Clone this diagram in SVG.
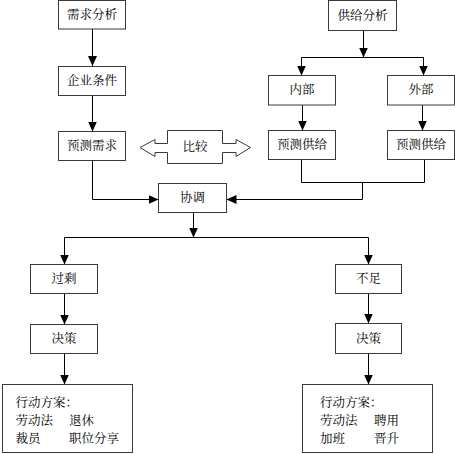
<svg xmlns="http://www.w3.org/2000/svg" width="455" height="454" viewBox="0 0 455 454">
<style>
.box{fill:#fff;stroke:#3a3a3a;stroke-width:1}
.ln{fill:none;stroke:#000;stroke-width:1}
.t{font-family:"Liberation Serif","Noto Serif CJK SC","Noto Sans CJK SC",serif;font-size:12.5px;fill:#000;text-anchor:middle;dominant-baseline:central}
.tl{font-family:"Liberation Serif","Noto Serif CJK SC","Noto Sans CJK SC",serif;font-size:12.5px;fill:#000;dominant-baseline:central}
</style>
<defs>
<marker id="ah" viewBox="0 0 10 9" refX="10" refY="4.5" markerWidth="10" markerHeight="9" markerUnits="userSpaceOnUse" orient="auto">
<path d="M0,0 L10,4.5 L0,9 z" fill="#000"/>
</marker>
</defs>
<rect width="455" height="454" fill="#fff"/>
<g id="connectors">
<path class="ln" d="M92.5,29 V66" marker-end="url(#ah)"/>
<path class="ln" d="M92.5,95.5 V131.5" marker-end="url(#ah)"/>
<path class="ln" d="M92.5,160.5 V199.5 H158.5" marker-end="url(#ah)"/>
<path class="ln" d="M363.5,30.5 V57.5" marker-end="url(#ah)"/>
<path class="ln" d="M301.5,57.5 H423.5"/>
<path class="ln" d="M301.5,57.5 V75.5" marker-end="url(#ah)"/>
<path class="ln" d="M423.5,57.5 V75.5" marker-end="url(#ah)"/>
<path class="ln" d="M302.5,105 V130.5" marker-end="url(#ah)"/>
<path class="ln" d="M422.5,105 V130.5" marker-end="url(#ah)"/>
<path class="ln" d="M301.5,159.5 V182.5 H424.5 V159.5"/>
<path class="ln" d="M362.5,182.5 V199.5 H226.5" marker-end="url(#ah)"/>
<path class="ln" d="M193.5,212.5 V237.5" marker-end="url(#ah)"/>
<path class="ln" d="M64.5,237.5 H368.5"/>
<path class="ln" d="M64.5,237.5 V264.5" marker-end="url(#ah)"/>
<path class="ln" d="M368.5,237.5 V264.5" marker-end="url(#ah)"/>
<path class="ln" d="M64.5,293.5 V324.5" marker-end="url(#ah)"/>
<path class="ln" d="M64.5,353.5 V384.5" marker-end="url(#ah)"/>
<path class="ln" d="M368.5,293.5 V323.5" marker-end="url(#ah)"/>
<path class="ln" d="M368.5,353.5 V384.5" marker-end="url(#ah)"/>
</g>
<g id="compare">
<polygon class="box" points="140,147.5 155,139.5 155,143.5 167.5,143.5 167.5,130.5 222.5,130.5 222.5,143.5 236,143.5 236,139.5 250.5,147.5 236,156.5 236,152.5 222.5,152.5 222.5,163.5 167.5,163.5 167.5,152.5 155,152.5 155,156.5"/>
<text class="t" x="195" y="147">比较</text>
</g>
<g id="demand"><rect class="box" x="58.5" y="0.5" width="67" height="28.5"/><text class="t" x="92" y="15">需求分析</text></g>
<g id="company"><rect class="box" x="58.5" y="66.5" width="67" height="29"/><text class="t" x="92" y="81">企业条件</text></g>
<g id="forecastDemand"><rect class="box" x="58.5" y="131.5" width="67" height="29"/><text class="t" x="92" y="146">预测需求</text></g>
<g id="supply"><rect class="box" x="328.5" y="0.5" width="68" height="30"/><text class="t" x="362.5" y="16">供给分析</text></g>
<g id="internal"><rect class="box" x="268.5" y="75.5" width="67" height="29.5"/><text class="t" x="302" y="90">内部</text></g>
<g id="external"><rect class="box" x="387.5" y="75.5" width="67" height="29.5"/><text class="t" x="421" y="90">外部</text></g>
<g id="forecastSupplyL"><rect class="box" x="268.5" y="130.5" width="67" height="29"/><text class="t" x="302" y="145">预测供给</text></g>
<g id="forecastSupplyR"><rect class="box" x="387.5" y="130.5" width="67" height="29"/><text class="t" x="421" y="145">预测供给</text></g>
<g id="coordinate"><rect class="box" x="158.5" y="183.5" width="68" height="29"/><text class="t" x="192.5" y="198">协调</text></g>
<g id="surplus"><rect class="box" x="30.5" y="264.5" width="67" height="29"/><text class="t" x="64" y="279">过剩</text></g>
<g id="decisionL"><rect class="box" x="30.5" y="324.5" width="67" height="29"/><text class="t" x="64" y="339">决策</text></g>
<g id="shortage"><rect class="box" x="335.5" y="264.5" width="66" height="29"/><text class="t" x="368.5" y="279">不足</text></g>
<g id="decisionR"><rect class="box" x="335.5" y="323.5" width="66" height="30"/><text class="t" x="368.5" y="339">决策</text></g>
<g id="actionL">
<rect class="box" x="2.5" y="384.5" width="130" height="68"/>
<text class="tl" x="15.5" y="403">行动方案：</text>
<text class="tl" x="15.5" y="421">劳动法</text><text class="tl" x="69" y="421">退休</text>
<text class="tl" x="15.5" y="439">裁员</text><text class="tl" x="69" y="439">职位分享</text>
</g>
<g id="actionR">
<rect class="box" x="302.5" y="384.5" width="130" height="68"/>
<text class="tl" x="320" y="403">行动方案：</text>
<text class="tl" x="320" y="421">劳动法</text><text class="tl" x="374" y="421">聘用</text>
<text class="tl" x="320" y="439">加班</text><text class="tl" x="374" y="439">晋升</text>
</g>
</svg>
